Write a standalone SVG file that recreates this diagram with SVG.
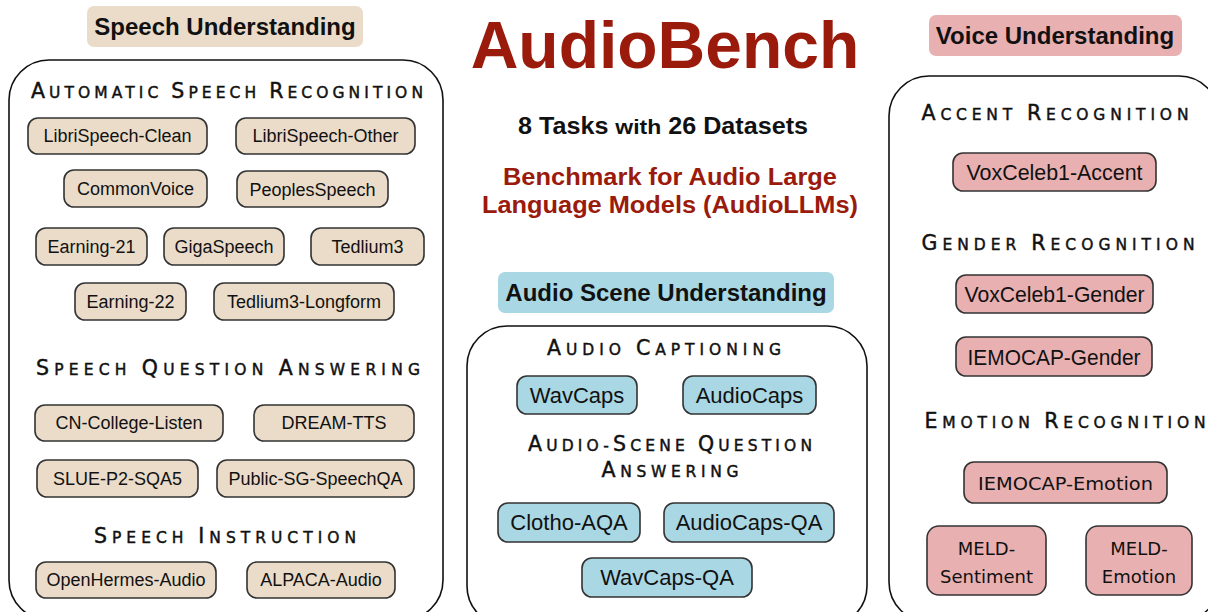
<svg xmlns="http://www.w3.org/2000/svg" width="1208" height="612" viewBox="0 0 1208 612">
<style>
.panel{fill:#fff;stroke:#111;stroke-width:1.6}
.sp{fill:#eadcc9;stroke:#333;stroke-width:1.6}
.bp{fill:#a9d7e3;stroke:#333;stroke-width:1.6}
.pp{fill:#e8b0b0;stroke:#333;stroke-width:1.6}
.tsp{fill:#eadcc9}
.tbp{fill:#a9d7e3}
.tpp{fill:#e8b0b0}
.lbl{font-family:"Liberation Sans",Arial,sans-serif;font-size:18px;fill:#111;text-anchor:middle}
.lb2{font-family:"Liberation Sans",Arial,sans-serif;font-size:22px;fill:#111;text-anchor:middle}
.cm{font-family:"Comic Sans MS","DejaVu Sans",sans-serif;font-size:18px;fill:#111;text-anchor:middle}
.hd{font-family:"DejaVu Sans","Liberation Sans",sans-serif;font-size:15.5px;fill:#111;stroke:#111;stroke-width:0.45;text-anchor:middle}
.B{font-size:20.5px}
.tt{font-family:"Liberation Sans",Arial,sans-serif;font-weight:bold;font-size:24px;fill:#111;text-anchor:middle}
.red{font-family:"Liberation Sans",Arial,sans-serif;font-weight:bold;fill:#9a1a0b;text-anchor:middle}
</style>
<rect width="1208" height="612" fill="#fff"/>

<g id="title">
<text class="red" x="665" y="68" font-size="66">AudioBench</text>
<text x="663" y="134" textLength="290" lengthAdjust="spacingAndGlyphs" style="font-family:'Liberation Sans',Arial,sans-serif;font-weight:bold;fill:#111;text-anchor:middle"><tspan font-size="23">8 Tasks </tspan><tspan font-size="21">with</tspan><tspan font-size="23"> 26 Datasets</tspan></text>
<text class="red" x="670" y="185" font-size="23" textLength="334" lengthAdjust="spacingAndGlyphs">Benchmark for Audio Large</text>
<text class="red" x="670" y="213" font-size="23" textLength="376" lengthAdjust="spacingAndGlyphs">Language Models (AudioLLMs)</text>
</g>

<g id="speech-understanding">
<rect class="tsp" x="87" y="6" width="276" height="41" rx="7"/>
<text class="tt" x="225" y="35">Speech Understanding</text>
<rect class="panel" x="9" y="60" width="434" height="560" rx="40"/>
<text class="hd" x="227" y="98" textLength="392" lengthAdjust="spacing"><tspan class="B">A</tspan>UTOMATIC <tspan class="B">S</tspan>PEECH <tspan class="B">R</tspan>ECOGNITION</text>
<g id="librispeech-clean"><rect class="sp" x="28" y="118" width="179" height="36" rx="10"/><text class="lbl" x="117.5" y="142">LibriSpeech-Clean</text></g>
<g id="librispeech-other"><rect class="sp" x="236" y="118" width="179" height="36" rx="10"/><text class="lbl" x="325.5" y="142">LibriSpeech-Other</text></g>
<g id="commonvoice"><rect class="sp" x="64" y="170" width="143" height="37" rx="10"/><text class="lbl" x="135.5" y="195">CommonVoice</text></g>
<g id="peoplesspeech"><rect class="sp" x="237" y="171" width="151" height="36" rx="10"/><text class="lbl" x="312.5" y="196">PeoplesSpeech</text></g>
<g id="earning-21"><rect class="sp" x="36" y="228" width="111" height="37" rx="10"/><text class="lbl" x="91.5" y="253">Earning-21</text></g>
<g id="gigaspeech"><rect class="sp" x="164" y="228" width="120" height="37" rx="10"/><text class="lbl" x="224" y="253">GigaSpeech</text></g>
<g id="tedlium3"><rect class="sp" x="311" y="228" width="113" height="37" rx="10"/><text class="lbl" x="367.5" y="253">Tedlium3</text></g>
<g id="earning-22"><rect class="sp" x="75" y="283" width="111" height="37" rx="10"/><text class="lbl" x="130.5" y="308">Earning-22</text></g>
<g id="tedlium3-longform"><rect class="sp" x="214" y="283" width="180" height="37" rx="10"/><text class="lbl" x="304" y="308">Tedlium3-Longform</text></g>
<text class="hd" x="228" y="375" textLength="384" lengthAdjust="spacing"><tspan class="B">S</tspan>PEECH <tspan class="B">Q</tspan>UESTION <tspan class="B">A</tspan>NSWERING</text>
<g id="cn-college-listen"><rect class="sp" x="35" y="405" width="188" height="36" rx="10"/><text class="lbl" x="129" y="429">CN-College-Listen</text></g>
<g id="dream-tts"><rect class="sp" x="254" y="405" width="160" height="36" rx="10"/><text class="lbl" x="334" y="429">DREAM-TTS</text></g>
<g id="slue-p2-sqa5"><rect class="sp" x="37" y="460" width="161" height="37" rx="10"/><text class="lbl" x="117.5" y="485">SLUE-P2-SQA5</text></g>
<g id="public-sg-speechqa"><rect class="sp" x="217" y="460" width="197" height="37" rx="10"/><text class="lbl" x="315.5" y="485">Public-SG-SpeechQA</text></g>
<text class="hd" x="225" y="543" textLength="262" lengthAdjust="spacing"><tspan class="B">S</tspan>PEECH <tspan class="B">I</tspan>NSTRUCTION</text>
<g id="openhermes-audio"><rect class="sp" x="36" y="562" width="180" height="36" rx="10"/><text class="lbl" x="126" y="586">OpenHermes-Audio</text></g>
<g id="alpaca-audio"><rect class="sp" x="247" y="562" width="148" height="36" rx="10"/><text class="lbl" x="321" y="586">ALPACA-Audio</text></g>
</g>

<g id="audio-scene-understanding">
<rect class="tbp" x="498" y="272" width="336" height="41" rx="7"/>
<text class="tt" x="666" y="301">Audio Scene Understanding</text>
<rect class="panel" x="467" y="326" width="400" height="300" rx="40"/>
<text class="hd" x="664" y="355" textLength="234" lengthAdjust="spacing"><tspan class="B">A</tspan>UDIO <tspan class="B">C</tspan>APTIONING</text>
<g id="wavcaps"><rect class="bp" x="517" y="376" width="120" height="38" rx="10"/><text class="lb2" x="577" y="403">WavCaps</text></g>
<g id="audiocaps"><rect class="bp" x="683" y="376" width="133" height="38" rx="10"/><text class="lb2" x="749.5" y="403">AudioCaps</text></g>
<text class="hd" x="670" y="451" textLength="284" lengthAdjust="spacing"><tspan class="B">A</tspan>UDIO-<tspan class="B">S</tspan>CENE <tspan class="B">Q</tspan>UESTION</text>
<text class="hd" x="670" y="477" textLength="137" lengthAdjust="spacing"><tspan class="B">A</tspan>NSWERING</text>
<g id="clotho-aqa"><rect class="bp" x="498" y="503" width="142" height="39" rx="10"/><text class="lb2" x="569" y="530">Clotho-AQA</text></g>
<g id="audiocaps-qa"><rect class="bp" x="664" y="503" width="170" height="39" rx="10"/><text class="lb2" x="749" y="530">AudioCaps-QA</text></g>
<g id="wavcaps-qa"><rect class="bp" x="582" y="558" width="170" height="39" rx="10"/><text class="lb2" x="667" y="585">WavCaps-QA</text></g>
</g>

<g id="voice-understanding">
<rect class="tpp" x="929" y="15" width="253" height="41" rx="7"/>
<text class="tt" x="1055" y="44">Voice Understanding</text>
<rect class="panel" x="889" y="76" width="330" height="546" rx="40"/>
<text class="hd" x="1055" y="120" textLength="267" lengthAdjust="spacing"><tspan class="B">A</tspan>CCENT <tspan class="B">R</tspan>ECOGNITION</text>
<g id="voxceleb1-accent"><rect class="pp" x="953" y="153" width="203" height="38" rx="10"/><text class="lb2" x="1054.5" y="180" textLength="176" lengthAdjust="spacingAndGlyphs">VoxCeleb1-Accent</text></g>
<text class="hd" x="1058" y="250" textLength="273" lengthAdjust="spacing"><tspan class="B">G</tspan>ENDER <tspan class="B">R</tspan>ECOGNITION</text>
<g id="voxceleb1-gender"><rect class="pp" x="956" y="275" width="197" height="38" rx="10"/><text class="lb2" x="1054.5" y="302" textLength="180" lengthAdjust="spacingAndGlyphs">VoxCeleb1-Gender</text></g>
<g id="iemocap-gender"><rect class="pp" x="956" y="337" width="196" height="39" rx="10"/><text class="lb2" x="1054" y="365" textLength="173" lengthAdjust="spacingAndGlyphs">IEMOCAP-Gender</text></g>
<text class="hd" x="1065" y="428" textLength="281" lengthAdjust="spacing"><tspan class="B">E</tspan>MOTION <tspan class="B">R</tspan>ECOGNITION</text>
<g id="iemocap-emotion"><rect class="pp" x="964" y="462" width="203" height="41" rx="10"/><text class="cm" x="1065.5" y="490" textLength="175" lengthAdjust="spacingAndGlyphs">IEMOCAP-Emotion</text></g>
<g id="meld-sentiment"><rect class="pp" x="927" y="526" width="119" height="69" rx="12"/><text class="cm" x="986.5" y="555">MELD-</text><text class="cm" x="986.5" y="583">Sentiment</text></g>
<g id="meld-emotion"><rect class="pp" x="1086" y="526" width="106" height="69" rx="12"/><text class="cm" x="1139" y="555">MELD-</text><text class="cm" x="1139" y="583">Emotion</text></g>
</g>

<g id="connectors"></g>
</svg>
